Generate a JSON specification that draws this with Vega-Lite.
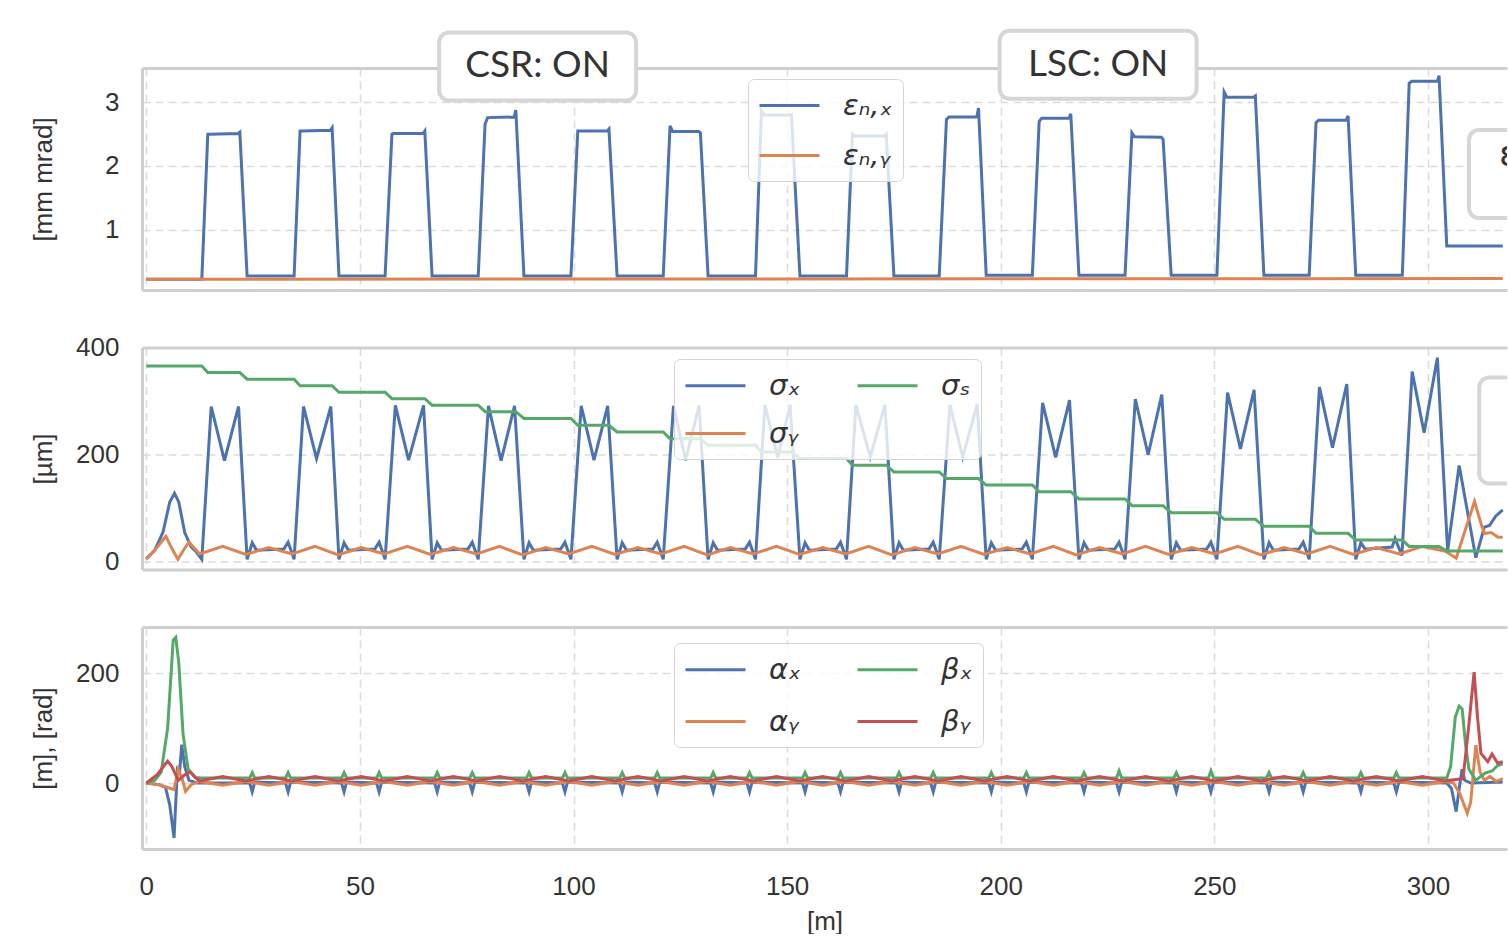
{
  "$schema": "https://vega.github.io/schema/vega-lite/v6.json",
  "padding": {"left": 29, "top": 28, "right": 0, "bottom": 0},
  "background": "white",
  "spacing": 57.5,
  "bounds": "flush",
  "resolve": {"scale": {"color": "independent"}},
  "config": {
    "view": {"stroke": null},
    "font": "Liberation Sans",
    "axis": {
      "gridColor": "#dcdcdc", "gridDash": [8, 5], "gridWidth": 1.6,
      "domainColor": "#cfcfcf", "domainWidth": 3,
      "ticks": false, "tickSize": 0,
      "labelFont": "Liberation Sans", "labelFontSize": 26, "labelColor": "#333333", "labelFlush": false,
      "titleFont": "Liberation Sans", "titleFontSize": 26, "titleColor": "#333333", "titleFontWeight": "normal"
    },
    "axisX": {"labelPadding": 24, "titlePadding": 9},
    "axisY": {"labelPadding": 23, "titleX": -99, "titleY": 111, "titleBaseline": "middle", "titleAlign": "center", "format": "d"},
    "legend": {
      "orient": "none", "direction": "vertical",
      "symbolType": "M-1,0H3", "symbolSize": 900, "symbolStrokeWidth": 3,
      "labelFont": "DejaVu Sans", "labelFontSize": 29, "labelFontStyle": "italic", "labelColor": "#333333",
      "labelOffset": 52, "rowPadding": 18, "columnPadding": 50, "padding": 10,
      "fillColor": "rgba(255,255,255,0.8)", "strokeColor": "#d4d4d4", "cornerRadius": 6, "labelLimit": 200
    }
  },
  "datasets": {
    "ann": [
      {"t": "CSR: ON", "s": 91.6, "v": 3.564},
      {"t": "LSC: ON", "s": 222.8, "v": 3.59}
    ],
    "edge1": [{"t": "ε", "s": 333.0, "v": 1.873, "ts": 316.6, "tv": 2.17}],
    "edge2": [{"s": 335.4, "v": 245.2}],
    "d": [
      {"k":"ex","s":0,"v":0.22},{"k":"ex","s":13,"v":0.22},{"k":"ex","s":14.4,"v":2.5},{"k":"ex","s":14.8,"v":2.5},{"k":"ex","s":21.5,"v":2.51},{"k":"ex","s":21.9,"v":2.53},{"k":"ex","s":23.6,"v":0.27},
      {"k":"ex","s":34.6,"v":0.27},{"k":"ex","s":36,"v":2.55},{"k":"ex","s":36.4,"v":2.55},{"k":"ex","s":43.1,"v":2.56},{"k":"ex","s":43.5,"v":2.6},{"k":"ex","s":45.1,"v":0.27},
      {"k":"ex","s":55.9,"v":0.27},{"k":"ex","s":57.5,"v":2.5},{"k":"ex","s":57.9,"v":2.51},{"k":"ex","s":64.8,"v":2.51},{"k":"ex","s":65.2,"v":2.55},{"k":"ex","s":66.9,"v":0.27},
      {"k":"ex","s":77.7,"v":0.27},{"k":"ex","s":79.3,"v":2.66},{"k":"ex","s":79.9,"v":2.76},{"k":"ex","s":86.1,"v":2.77},{"k":"ex","s":86.5,"v":2.88},{"k":"ex","s":88.4,"v":0.27},
      {"k":"ex","s":99.4,"v":0.27},{"k":"ex","s":101,"v":2.55},{"k":"ex","s":101.4,"v":2.55},{"k":"ex","s":107.9,"v":2.55},{"k":"ex","s":108.3,"v":2.58},{"k":"ex","s":110.2,"v":0.27},
      {"k":"ex","s":121,"v":0.27},{"k":"ex","s":122.6,"v":2.63},{"k":"ex","s":123.2,"v":2.54},{"k":"ex","s":129.3,"v":2.54},{"k":"ex","s":129.7,"v":2.52},{"k":"ex","s":131.5,"v":0.27},
      {"k":"ex","s":142.6,"v":0.27},{"k":"ex","s":144,"v":2.87},{"k":"ex","s":144.6,"v":2.8},{"k":"ex","s":150.6,"v":2.8},{"k":"ex","s":151,"v":2.81},{"k":"ex","s":153,"v":0.27},
      {"k":"ex","s":163.9,"v":0.27},{"k":"ex","s":165.3,"v":2.5},{"k":"ex","s":165.7,"v":2.47},{"k":"ex","s":172.8,"v":2.47},{"k":"ex","s":173.2,"v":2.5},{"k":"ex","s":175,"v":0.27},
      {"k":"ex","s":185.6,"v":0.27},{"k":"ex","s":187.3,"v":2.73},{"k":"ex","s":187.9,"v":2.77},{"k":"ex","s":194.4,"v":2.77},{"k":"ex","s":194.8,"v":2.91},{"k":"ex","s":196.6,"v":0.28},
      {"k":"ex","s":207.4,"v":0.28},{"k":"ex","s":209,"v":2.7},{"k":"ex","s":209.6,"v":2.75},{"k":"ex","s":216,"v":2.75},{"k":"ex","s":216.4,"v":2.82},{"k":"ex","s":218.3,"v":0.28},
      {"k":"ex","s":229.1,"v":0.28},{"k":"ex","s":230.7,"v":2.52},{"k":"ex","s":231.3,"v":2.46},{"k":"ex","s":237.6,"v":2.45},{"k":"ex","s":238,"v":2.42},{"k":"ex","s":239.9,"v":0.28},
      {"k":"ex","s":250.6,"v":0.28},{"k":"ex","s":252.3,"v":3.16},{"k":"ex","s":252.9,"v":3.08},{"k":"ex","s":259.2,"v":3.08},{"k":"ex","s":259.6,"v":3.1},{"k":"ex","s":261.6,"v":0.28},
      {"k":"ex","s":272.2,"v":0.28},{"k":"ex","s":273.8,"v":2.68},{"k":"ex","s":274.4,"v":2.72},{"k":"ex","s":280.9,"v":2.72},{"k":"ex","s":281.3,"v":2.79},{"k":"ex","s":283.1,"v":0.28},
      {"k":"ex","s":294,"v":0.28},{"k":"ex","s":295.6,"v":3.3},{"k":"ex","s":296.2,"v":3.33},{"k":"ex","s":302.2,"v":3.33},{"k":"ex","s":302.6,"v":3.42},{"k":"ex","s":304.4,"v":0.74},{"k":"ex","s":317.5,"v":0.74},
      {"k":"ey","s":0,"v":0.22},{"k":"ey","s":317.5,"v":0.23},

      {"k":"sx","s":0,"v":6},{"k":"sx","s":2,"v":22},{"k":"sx","s":3.9,"v":55},{"k":"sx","s":5.5,"v":112},{"k":"sx","s":6.6,"v":128},{"k":"sx","s":7.6,"v":112},{"k":"sx","s":9,"v":55},{"k":"sx","s":10.5,"v":28},{"k":"sx","s":11.6,"v":20},{"k":"sx","s":13,"v":5},
      {"k":"sx","s":15.2,"v":290},{"k":"sx","s":18.3,"v":189},{"k":"sx","s":21.6,"v":290},{"k":"sx","s":23.6,"v":5},
      {"k":"sx","s":24.8,"v":36},{"k":"sx","s":25.8,"v":22},{"k":"sx","s":32.2,"v":24},{"k":"sx","s":33.2,"v":37},
      {"k":"sx","s":34.6,"v":5},{"k":"sx","s":36.8,"v":290},{"k":"sx","s":39.85,"v":193},{"k":"sx","s":43.2,"v":290},{"k":"sx","s":45.1,"v":5},
      {"k":"sx","s":46.3,"v":36},{"k":"sx","s":47.3,"v":22},{"k":"sx","s":53.5,"v":24},{"k":"sx","s":54.5,"v":37},
      {"k":"sx","s":55.9,"v":5},{"k":"sx","s":58.3,"v":292},{"k":"sx","s":61.4,"v":190},{"k":"sx","s":64.9,"v":292},{"k":"sx","s":66.9,"v":5},
      {"k":"sx","s":68.1,"v":36},{"k":"sx","s":69.1,"v":22},{"k":"sx","s":75.3,"v":24},{"k":"sx","s":76.3,"v":37},
      {"k":"sx","s":77.7,"v":5},{"k":"sx","s":80.1,"v":291},{"k":"sx","s":83.05,"v":189},{"k":"sx","s":86.2,"v":291},{"k":"sx","s":88.4,"v":5},
      {"k":"sx","s":89.6,"v":36},{"k":"sx","s":90.6,"v":22},{"k":"sx","s":97,"v":24},{"k":"sx","s":98,"v":37},
      {"k":"sx","s":99.4,"v":5},{"k":"sx","s":101.8,"v":291},{"k":"sx","s":104.8,"v":190},{"k":"sx","s":108,"v":291},{"k":"sx","s":110.2,"v":5},
      {"k":"sx","s":111.4,"v":36},{"k":"sx","s":112.4,"v":22},{"k":"sx","s":118.6,"v":24},{"k":"sx","s":119.6,"v":37},
      {"k":"sx","s":121,"v":5},{"k":"sx","s":123.4,"v":291},{"k":"sx","s":126.25,"v":190},{"k":"sx","s":129.4,"v":292},{"k":"sx","s":131.5,"v":5},
      {"k":"sx","s":132.7,"v":36},{"k":"sx","s":133.7,"v":22},{"k":"sx","s":140.2,"v":24},{"k":"sx","s":141.2,"v":37},
      {"k":"sx","s":142.6,"v":5},{"k":"sx","s":144.8,"v":293},{"k":"sx","s":147.8,"v":195},{"k":"sx","s":150.7,"v":293},{"k":"sx","s":153,"v":5},
      {"k":"sx","s":154.2,"v":36},{"k":"sx","s":155.2,"v":22},{"k":"sx","s":161.5,"v":24},{"k":"sx","s":162.5,"v":37},
      {"k":"sx","s":163.9,"v":5},{"k":"sx","s":166.1,"v":293},{"k":"sx","s":169.45,"v":196},{"k":"sx","s":172.9,"v":293},{"k":"sx","s":175,"v":5},
      {"k":"sx","s":176.2,"v":36},{"k":"sx","s":177.2,"v":22},{"k":"sx","s":183.2,"v":24},{"k":"sx","s":184.2,"v":37},
      {"k":"sx","s":185.6,"v":5},{"k":"sx","s":188.1,"v":293},{"k":"sx","s":191.1,"v":196},{"k":"sx","s":194.5,"v":294},{"k":"sx","s":196.6,"v":5},
      {"k":"sx","s":197.8,"v":36},{"k":"sx","s":198.8,"v":22},{"k":"sx","s":205,"v":24},{"k":"sx","s":206,"v":37},
      {"k":"sx","s":207.4,"v":5},{"k":"sx","s":209.8,"v":297},{"k":"sx","s":212.85,"v":195},{"k":"sx","s":216.1,"v":302},{"k":"sx","s":218.3,"v":5},
      {"k":"sx","s":219.5,"v":36},{"k":"sx","s":220.5,"v":22},{"k":"sx","s":226.7,"v":24},{"k":"sx","s":227.7,"v":37},
      {"k":"sx","s":229.1,"v":5},{"k":"sx","s":231.5,"v":304},{"k":"sx","s":234.5,"v":200},{"k":"sx","s":237.7,"v":312},{"k":"sx","s":239.9,"v":5},
      {"k":"sx","s":241.1,"v":36},{"k":"sx","s":242.1,"v":22},{"k":"sx","s":248.2,"v":24},{"k":"sx","s":249.2,"v":37},
      {"k":"sx","s":250.6,"v":5},{"k":"sx","s":253.1,"v":316},{"k":"sx","s":256.1,"v":211},{"k":"sx","s":259.3,"v":321},{"k":"sx","s":261.6,"v":5},
      {"k":"sx","s":262.8,"v":36},{"k":"sx","s":263.8,"v":22},{"k":"sx","s":269.8,"v":24},{"k":"sx","s":270.8,"v":37},
      {"k":"sx","s":272.2,"v":5},{"k":"sx","s":274.6,"v":326},{"k":"sx","s":277.65,"v":213},{"k":"sx","s":281,"v":332},{"k":"sx","s":283.1,"v":5},
      {"k":"sx","s":284.3,"v":36},{"k":"sx","s":285.3,"v":24},{"k":"sx","s":291.6,"v":28},{"k":"sx","s":292.3,"v":44},
      {"k":"sx","s":293.9,"v":12},{"k":"sx","s":296.3,"v":355},{"k":"sx","s":299.1,"v":241},{"k":"sx","s":302.2,"v":381},{"k":"sx","s":304.6,"v":21},
      {"k":"sx","s":307.3,"v":180},{"k":"sx","s":311.2,"v":8},{"k":"sx","s":313.2,"v":65},{"k":"sx","s":314.4,"v":68},{"k":"sx","s":315.9,"v":86},{"k":"sx","s":317.5,"v":97},

      {"k":"sy","s":0,"v":5},{"k":"sy","s":2.3,"v":25},{"k":"sy","s":4.6,"v":48},{"k":"sy","s":6,"v":25},{"k":"sy","s":7.4,"v":5},{"k":"sy","s":8.7,"v":22},{"k":"sy","s":10,"v":37},{"k":"sy","s":12.5,"v":15},
      {"k":"sy","s":17.9,"v":29},{"k":"sy","s":23.3,"v":14},{"k":"sy","s":28.7,"v":27},{"k":"sy","s":34.1,"v":15},{"k":"sy","s":39.5,"v":29},{"k":"sy","s":44.9,"v":13},{"k":"sy","s":50.3,"v":27},{"k":"sy","s":55.7,"v":15},{"k":"sy","s":61.1,"v":29},
      {"k":"sy","s":66.5,"v":14},{"k":"sy","s":71.9,"v":27},{"k":"sy","s":77.3,"v":15},{"k":"sy","s":82.7,"v":29},{"k":"sy","s":88.1,"v":13},{"k":"sy","s":93.5,"v":27},{"k":"sy","s":98.9,"v":15},{"k":"sy","s":104.3,"v":29},{"k":"sy","s":109.7,"v":14},{"k":"sy","s":115.1,"v":27},
      {"k":"sy","s":120.5,"v":15},{"k":"sy","s":125.9,"v":29},{"k":"sy","s":131.3,"v":13},{"k":"sy","s":136.7,"v":27},{"k":"sy","s":142.1,"v":15},{"k":"sy","s":147.5,"v":29},{"k":"sy","s":152.9,"v":14},{"k":"sy","s":158.3,"v":27},{"k":"sy","s":163.7,"v":15},{"k":"sy","s":169.1,"v":29},
      {"k":"sy","s":174.5,"v":13},{"k":"sy","s":179.9,"v":27},{"k":"sy","s":185.3,"v":15},{"k":"sy","s":190.7,"v":29},{"k":"sy","s":196.1,"v":14},{"k":"sy","s":201.5,"v":27},{"k":"sy","s":206.9,"v":15},{"k":"sy","s":212.3,"v":29},{"k":"sy","s":217.7,"v":13},{"k":"sy","s":223.1,"v":27},
      {"k":"sy","s":228.5,"v":15},{"k":"sy","s":233.9,"v":29},{"k":"sy","s":239.3,"v":14},{"k":"sy","s":244.7,"v":27},{"k":"sy","s":250.1,"v":15},{"k":"sy","s":255.5,"v":29},{"k":"sy","s":260.9,"v":13},{"k":"sy","s":266.3,"v":27},{"k":"sy","s":271.7,"v":15},{"k":"sy","s":277.1,"v":29},
      {"k":"sy","s":282.5,"v":14},{"k":"sy","s":287.9,"v":27},{"k":"sy","s":293.3,"v":15},{"k":"sy","s":298.7,"v":29},{"k":"sy","s":304.1,"v":20},
      {"k":"sy","s":306.6,"v":7},{"k":"sy","s":310.9,"v":113},{"k":"sy","s":312.4,"v":72},{"k":"sy","s":313.2,"v":53},{"k":"sy","s":314.8,"v":55},{"k":"sy","s":316.4,"v":46},{"k":"sy","s":317.5,"v":46},

      {"k":"ss","s":0,"v":365.6},
      {"k":"ss","s":13,"v":365.6},{"k":"ss","s":14.4,"v":353.3},{"k":"ss","s":21.9,"v":353.3},{"k":"ss","s":23.6,"v":341},
      {"k":"ss","s":34.6,"v":341},{"k":"ss","s":36,"v":328.7},{"k":"ss","s":43.5,"v":328.7},{"k":"ss","s":45.1,"v":316.5},
      {"k":"ss","s":55.9,"v":316.5},{"k":"ss","s":57.5,"v":304.5},{"k":"ss","s":65.2,"v":304.5},{"k":"ss","s":66.9,"v":292.5},
      {"k":"ss","s":77.7,"v":292.5},{"k":"ss","s":79.3,"v":280.3},{"k":"ss","s":86.5,"v":280.3},{"k":"ss","s":88.4,"v":267.8},
      {"k":"ss","s":99.4,"v":267.8},{"k":"ss","s":101,"v":255},{"k":"ss","s":108.3,"v":255},{"k":"ss","s":110.2,"v":242.5},
      {"k":"ss","s":121,"v":242.5},{"k":"ss","s":122.6,"v":230},{"k":"ss","s":129.7,"v":230},{"k":"ss","s":131.5,"v":217.5},
      {"k":"ss","s":142.6,"v":217.5},{"k":"ss","s":144,"v":205.3},{"k":"ss","s":151,"v":205.3},{"k":"ss","s":153,"v":193},
      {"k":"ss","s":163.9,"v":193},{"k":"ss","s":165.3,"v":180.5},{"k":"ss","s":173.2,"v":180.5},{"k":"ss","s":175,"v":168},
      {"k":"ss","s":185.6,"v":168},{"k":"ss","s":187.3,"v":155.7},{"k":"ss","s":194.8,"v":155.7},{"k":"ss","s":196.6,"v":143.5},
      {"k":"ss","s":207.4,"v":143.5},{"k":"ss","s":209,"v":131},{"k":"ss","s":216.4,"v":131},{"k":"ss","s":218.3,"v":117.5},
      {"k":"ss","s":229.1,"v":117.5},{"k":"ss","s":230.7,"v":105},{"k":"ss","s":238,"v":105},{"k":"ss","s":239.9,"v":92},
      {"k":"ss","s":250.6,"v":92},{"k":"ss","s":252.3,"v":79.5},{"k":"ss","s":259.6,"v":79.5},{"k":"ss","s":261.6,"v":66.5},
      {"k":"ss","s":272.2,"v":66.5},{"k":"ss","s":273.8,"v":53.5},{"k":"ss","s":281.3,"v":53.5},{"k":"ss","s":283.1,"v":41},
      {"k":"ss","s":294,"v":41},{"k":"ss","s":295.6,"v":29},{"k":"ss","s":302.6,"v":29},{"k":"ss","s":304.4,"v":20.5},
      {"k":"ss","s":317.5,"v":20.5},

      {"k":"ax","s":0,"v":0},{"k":"ax","s":3,"v":-3},{"k":"ax","s":4.5,"v":-8},{"k":"ax","s":5.5,"v":-40},{"k":"ax","s":6.5,"v":-100},{"k":"ax","s":7,"v":-20},{"k":"ax","s":7.3,"v":25},{"k":"ax","s":7.8,"v":20},{"k":"ax","s":8.3,"v":70},{"k":"ax","s":9,"v":30},{"k":"ax","s":10,"v":5},{"k":"ax","s":12,"v":0},
      {"k":"ax","s":24.2,"v":0},{"k":"ax","s":24.8,"v":-16},{"k":"ax","s":25.4,"v":2},{"k":"ax","s":32.6,"v":0},{"k":"ax","s":33.2,"v":-16},{"k":"ax","s":33.8,"v":2},
      {"k":"ax","s":45.7,"v":0},{"k":"ax","s":46.3,"v":-16},{"k":"ax","s":46.9,"v":2},{"k":"ax","s":53.9,"v":0},{"k":"ax","s":54.5,"v":-16},{"k":"ax","s":55.1,"v":2},
      {"k":"ax","s":67.5,"v":0},{"k":"ax","s":68.1,"v":-16},{"k":"ax","s":68.7,"v":2},{"k":"ax","s":75.7,"v":0},{"k":"ax","s":76.3,"v":-16},{"k":"ax","s":76.9,"v":2},
      {"k":"ax","s":89,"v":0},{"k":"ax","s":89.6,"v":-16},{"k":"ax","s":90.2,"v":2},{"k":"ax","s":97.4,"v":0},{"k":"ax","s":98,"v":-16},{"k":"ax","s":98.6,"v":2},
      {"k":"ax","s":110.8,"v":0},{"k":"ax","s":111.4,"v":-16},{"k":"ax","s":112,"v":2},{"k":"ax","s":119,"v":0},{"k":"ax","s":119.6,"v":-16},{"k":"ax","s":120.2,"v":2},
      {"k":"ax","s":132.1,"v":0},{"k":"ax","s":132.7,"v":-16},{"k":"ax","s":133.3,"v":2},{"k":"ax","s":140.6,"v":0},{"k":"ax","s":141.2,"v":-16},{"k":"ax","s":141.8,"v":2},
      {"k":"ax","s":153.6,"v":0},{"k":"ax","s":154.2,"v":-16},{"k":"ax","s":154.8,"v":2},{"k":"ax","s":161.9,"v":0},{"k":"ax","s":162.5,"v":-16},{"k":"ax","s":163.1,"v":2},
      {"k":"ax","s":175.6,"v":0},{"k":"ax","s":176.2,"v":-16},{"k":"ax","s":176.8,"v":2},{"k":"ax","s":183.6,"v":0},{"k":"ax","s":184.2,"v":-16},{"k":"ax","s":184.8,"v":2},
      {"k":"ax","s":197.2,"v":0},{"k":"ax","s":197.8,"v":-16},{"k":"ax","s":198.4,"v":2},{"k":"ax","s":205.4,"v":0},{"k":"ax","s":206,"v":-16},{"k":"ax","s":206.6,"v":2},
      {"k":"ax","s":218.9,"v":0},{"k":"ax","s":219.5,"v":-16},{"k":"ax","s":220.1,"v":2},{"k":"ax","s":227.1,"v":0},{"k":"ax","s":227.7,"v":-16},{"k":"ax","s":228.3,"v":2},
      {"k":"ax","s":240.5,"v":0},{"k":"ax","s":241.1,"v":-16},{"k":"ax","s":241.7,"v":2},{"k":"ax","s":248.6,"v":0},{"k":"ax","s":249.2,"v":-16},{"k":"ax","s":249.8,"v":2},
      {"k":"ax","s":262.2,"v":0},{"k":"ax","s":262.8,"v":-16},{"k":"ax","s":263.4,"v":2},{"k":"ax","s":270.2,"v":0},{"k":"ax","s":270.8,"v":-16},{"k":"ax","s":271.4,"v":2},
      {"k":"ax","s":283.7,"v":0},{"k":"ax","s":284.3,"v":-16},{"k":"ax","s":284.9,"v":2},{"k":"ax","s":292,"v":0},{"k":"ax","s":292.6,"v":-16},{"k":"ax","s":293.2,"v":2},
      {"k":"ax","s":304.4,"v":0},{"k":"ax","s":305.5,"v":-10},{"k":"ax","s":306.6,"v":-52},{"k":"ax","s":307.4,"v":-5},{"k":"ax","s":308,"v":25},{"k":"ax","s":308.6,"v":5},{"k":"ax","s":310,"v":0},{"k":"ax","s":317.5,"v":2},

      {"k":"ay","s":0,"v":0},{"k":"ay","s":3,"v":-3},{"k":"ay","s":5,"v":-8},{"k":"ay","s":6.5,"v":-12},{"k":"ay","s":7.5,"v":25},{"k":"ay","s":8.5,"v":5},{"k":"ay","s":9.2,"v":-15},{"k":"ay","s":10.5,"v":-3},
      {"k":"ay","s":12.5,"v":3},{"k":"ay","s":17.9,"v":-4},{"k":"ay","s":23.3,"v":3},{"k":"ay","s":28.7,"v":-4},{"k":"ay","s":34.1,"v":3},{"k":"ay","s":39.5,"v":-4},{"k":"ay","s":44.9,"v":3},{"k":"ay","s":50.3,"v":-4},{"k":"ay","s":55.7,"v":3},{"k":"ay","s":61.1,"v":-4},
      {"k":"ay","s":66.5,"v":3},{"k":"ay","s":71.9,"v":-4},{"k":"ay","s":77.3,"v":3},{"k":"ay","s":82.7,"v":-4},{"k":"ay","s":88.1,"v":3},{"k":"ay","s":93.5,"v":-4},{"k":"ay","s":98.9,"v":3},{"k":"ay","s":104.3,"v":-4},{"k":"ay","s":109.7,"v":3},{"k":"ay","s":115.1,"v":-4},
      {"k":"ay","s":120.5,"v":3},{"k":"ay","s":125.9,"v":-4},{"k":"ay","s":131.3,"v":3},{"k":"ay","s":136.7,"v":-4},{"k":"ay","s":142.1,"v":3},{"k":"ay","s":147.5,"v":-4},{"k":"ay","s":152.9,"v":3},{"k":"ay","s":158.3,"v":-4},{"k":"ay","s":163.7,"v":3},{"k":"ay","s":169.1,"v":-4},
      {"k":"ay","s":174.5,"v":3},{"k":"ay","s":179.9,"v":-4},{"k":"ay","s":185.3,"v":3},{"k":"ay","s":190.7,"v":-4},{"k":"ay","s":196.1,"v":3},{"k":"ay","s":201.5,"v":-4},{"k":"ay","s":206.9,"v":3},{"k":"ay","s":212.3,"v":-4},{"k":"ay","s":217.7,"v":3},{"k":"ay","s":223.1,"v":-4},
      {"k":"ay","s":228.5,"v":3},{"k":"ay","s":233.9,"v":-4},{"k":"ay","s":239.3,"v":3},{"k":"ay","s":244.7,"v":-4},{"k":"ay","s":250.1,"v":3},{"k":"ay","s":255.5,"v":-4},{"k":"ay","s":260.9,"v":3},{"k":"ay","s":266.3,"v":-4},{"k":"ay","s":271.7,"v":3},{"k":"ay","s":277.1,"v":-4},
      {"k":"ay","s":282.5,"v":3},{"k":"ay","s":287.9,"v":-4},{"k":"ay","s":293.3,"v":3},{"k":"ay","s":298.7,"v":-4},{"k":"ay","s":304.1,"v":3},
      {"k":"ay","s":306,"v":0},{"k":"ay","s":307.5,"v":-20},{"k":"ay","s":309.2,"v":-55},{"k":"ay","s":310,"v":-35},{"k":"ay","s":311.2,"v":69},{"k":"ay","s":312.2,"v":20},{"k":"ay","s":313.2,"v":5},{"k":"ay","s":314.5,"v":12},{"k":"ay","s":316,"v":3},{"k":"ay","s":317.5,"v":8},

      {"k":"bx","s":0,"v":0},{"k":"bx","s":2,"v":5},{"k":"bx","s":3.5,"v":20},{"k":"bx","s":5,"v":100},{"k":"bx","s":6.3,"v":260},{"k":"bx","s":6.9,"v":265},{"k":"bx","s":7.6,"v":220},{"k":"bx","s":8.6,"v":90},{"k":"bx","s":9.8,"v":25},{"k":"bx","s":11.5,"v":10},{"k":"bx","s":13,"v":9},
      {"k":"bx","s":24.2,"v":9},{"k":"bx","s":24.8,"v":19},{"k":"bx","s":25.4,"v":9},{"k":"bx","s":32.6,"v":9},{"k":"bx","s":33.2,"v":19},{"k":"bx","s":33.8,"v":9},
      {"k":"bx","s":45.7,"v":9},{"k":"bx","s":46.3,"v":19},{"k":"bx","s":46.9,"v":9},{"k":"bx","s":53.9,"v":9},{"k":"bx","s":54.5,"v":19},{"k":"bx","s":55.1,"v":9},
      {"k":"bx","s":67.5,"v":9},{"k":"bx","s":68.1,"v":19},{"k":"bx","s":68.7,"v":9},{"k":"bx","s":75.7,"v":9},{"k":"bx","s":76.3,"v":19},{"k":"bx","s":76.9,"v":9},
      {"k":"bx","s":89,"v":9},{"k":"bx","s":89.6,"v":19},{"k":"bx","s":90.2,"v":9},{"k":"bx","s":97.4,"v":9},{"k":"bx","s":98,"v":19},{"k":"bx","s":98.6,"v":9},
      {"k":"bx","s":110.8,"v":9},{"k":"bx","s":111.4,"v":19},{"k":"bx","s":112,"v":9},{"k":"bx","s":119,"v":9},{"k":"bx","s":119.6,"v":19},{"k":"bx","s":120.2,"v":9},
      {"k":"bx","s":132.1,"v":9},{"k":"bx","s":132.7,"v":19},{"k":"bx","s":133.3,"v":9},{"k":"bx","s":140.6,"v":9},{"k":"bx","s":141.2,"v":19},{"k":"bx","s":141.8,"v":9},
      {"k":"bx","s":153.6,"v":9},{"k":"bx","s":154.2,"v":19},{"k":"bx","s":154.8,"v":9},{"k":"bx","s":161.9,"v":9},{"k":"bx","s":162.5,"v":19},{"k":"bx","s":163.1,"v":9},
      {"k":"bx","s":175.6,"v":9},{"k":"bx","s":176.2,"v":19},{"k":"bx","s":176.8,"v":9},{"k":"bx","s":183.6,"v":9},{"k":"bx","s":184.2,"v":19},{"k":"bx","s":184.8,"v":9},
      {"k":"bx","s":197.2,"v":9},{"k":"bx","s":197.8,"v":19},{"k":"bx","s":198.4,"v":9},{"k":"bx","s":205.4,"v":9},{"k":"bx","s":206,"v":19},{"k":"bx","s":206.6,"v":9},
      {"k":"bx","s":218.9,"v":9},{"k":"bx","s":219.5,"v":19},{"k":"bx","s":220.1,"v":9},{"k":"bx","s":227.1,"v":9},{"k":"bx","s":227.7,"v":22},{"k":"bx","s":228.3,"v":9},
      {"k":"bx","s":240.5,"v":9},{"k":"bx","s":241.1,"v":19},{"k":"bx","s":241.7,"v":9},{"k":"bx","s":248.6,"v":9},{"k":"bx","s":249.2,"v":22},{"k":"bx","s":249.8,"v":9},
      {"k":"bx","s":262.2,"v":9},{"k":"bx","s":262.8,"v":19},{"k":"bx","s":263.4,"v":9},{"k":"bx","s":270.2,"v":9},{"k":"bx","s":270.8,"v":19},{"k":"bx","s":271.4,"v":9},
      {"k":"bx","s":283.7,"v":9},{"k":"bx","s":284.3,"v":19},{"k":"bx","s":284.9,"v":9},{"k":"bx","s":292,"v":9},{"k":"bx","s":292.6,"v":19},{"k":"bx","s":293.2,"v":9},
      {"k":"bx","s":304.4,"v":9},{"k":"bx","s":305.3,"v":30},{"k":"bx","s":306.4,"v":120},{"k":"bx","s":307.3,"v":140},{"k":"bx","s":308,"v":135},{"k":"bx","s":308.8,"v":70},{"k":"bx","s":309.6,"v":25},{"k":"bx","s":311.2,"v":5},{"k":"bx","s":313.4,"v":18},{"k":"bx","s":315,"v":22},{"k":"bx","s":316.3,"v":32},{"k":"bx","s":317.5,"v":35},

      {"k":"by","s":0,"v":0},{"k":"by","s":2.5,"v":15},{"k":"by","s":5,"v":40},{"k":"by","s":6,"v":30},{"k":"by","s":7.5,"v":5},{"k":"by","s":9,"v":15},{"k":"by","s":10.3,"v":20},{"k":"by","s":11.5,"v":10},
      {"k":"by","s":12.5,"v":4},{"k":"by","s":17.9,"v":12},{"k":"by","s":23.3,"v":4},{"k":"by","s":28.7,"v":12},{"k":"by","s":34.1,"v":4},{"k":"by","s":39.5,"v":12},{"k":"by","s":44.9,"v":4},{"k":"by","s":50.3,"v":12},{"k":"by","s":55.7,"v":4},{"k":"by","s":61.1,"v":12},
      {"k":"by","s":66.5,"v":4},{"k":"by","s":71.9,"v":12},{"k":"by","s":77.3,"v":4},{"k":"by","s":82.7,"v":12},{"k":"by","s":88.1,"v":4},{"k":"by","s":93.5,"v":12},{"k":"by","s":98.9,"v":4},{"k":"by","s":104.3,"v":12},{"k":"by","s":109.7,"v":4},{"k":"by","s":115.1,"v":12},
      {"k":"by","s":120.5,"v":4},{"k":"by","s":125.9,"v":12},{"k":"by","s":131.3,"v":4},{"k":"by","s":136.7,"v":12},{"k":"by","s":142.1,"v":4},{"k":"by","s":147.5,"v":12},{"k":"by","s":152.9,"v":4},{"k":"by","s":158.3,"v":12},{"k":"by","s":163.7,"v":4},{"k":"by","s":169.1,"v":12},
      {"k":"by","s":174.5,"v":4},{"k":"by","s":179.9,"v":12},{"k":"by","s":185.3,"v":4},{"k":"by","s":190.7,"v":12},{"k":"by","s":196.1,"v":4},{"k":"by","s":201.5,"v":12},{"k":"by","s":206.9,"v":4},{"k":"by","s":212.3,"v":12},{"k":"by","s":217.7,"v":4},{"k":"by","s":223.1,"v":12},
      {"k":"by","s":228.5,"v":4},{"k":"by","s":233.9,"v":12},{"k":"by","s":239.3,"v":4},{"k":"by","s":244.7,"v":12},{"k":"by","s":250.1,"v":4},{"k":"by","s":255.5,"v":12},{"k":"by","s":260.9,"v":4},{"k":"by","s":266.3,"v":12},{"k":"by","s":271.7,"v":4},{"k":"by","s":277.1,"v":12},
      {"k":"by","s":282.5,"v":4},{"k":"by","s":287.9,"v":12},{"k":"by","s":293.3,"v":4},{"k":"by","s":298.7,"v":12},{"k":"by","s":304.1,"v":4},
      {"k":"by","s":306,"v":6},{"k":"by","s":308.2,"v":8},{"k":"by","s":309.5,"v":100},{"k":"by","s":310.8,"v":202},{"k":"by","s":311.6,"v":120},{"k":"by","s":312.4,"v":54},{"k":"by","s":314,"v":39},{"k":"by","s":315,"v":53},{"k":"by","s":316.3,"v":36},{"k":"by","s":317.5,"v":39}
    ]
  },
  "vconcat": [
    {
      "width": 1365, "height": 222,
      "resolve": {"axis": {"x": "independent"}},
      "layer": [
        {
          "data": {"name": "d"},
          "transform": [{"filter": {"field": "k", "oneOf": ["ex", "ey"]}}],
          "mark": {"type": "line", "strokeWidth": 3},
          "encoding": {
            "x": {"field": "s", "type": "quantitative", "scale": {"domain": [-1, 318.5], "nice": false, "zero": false},
                  "axis": {"orient": "bottom", "labels": false, "title": null, "values": [0, 50, 100, 150, 200, 250, 300]}},
            "y": {"field": "v", "type": "quantitative", "scale": {"domain": [0.05, 3.54], "nice": false, "zero": false},
                  "axis": {"title": "[mm mrad]", "values": [1, 2, 3]}},
            "color": {"field": "k", "type": "nominal",
                      "scale": {"domain": ["ex", "ey"], "range": ["#4c72b0", "#dd8452"]},
                      "legend": {"title": null, "legendX": 606, "legendY": 11, "rowPadding": 18,
                                 "labelExpr": "datum.label == 'ex' ? 'εₙ,ₓ' : 'εₙ,ᵧ'"}}
          }
        },
        {
          "data": {"name": "ann"},
          "mark": {"type": "rect", "width": 197, "height": 68, "cornerRadius": 10, "fill": "white", "stroke": "#d6d6d6", "strokeWidth": 4},
          "encoding": {
            "x": {"field": "s", "type": "quantitative", "scale": {"domain": [-1, 318.5], "nice": false, "zero": false},
                  "axis": {"orient": "top", "labels": false, "grid": false, "title": null}},
            "y": {"field": "v", "type": "quantitative", "scale": {"domain": [0.05, 3.54], "nice": false, "zero": false}}
          }
        },
        {
          "data": {"name": "ann"},
          "mark": {"type": "text", "font": "Lato", "fontSize": 37, "color": "#333333"},
          "encoding": {
            "x": {"field": "s", "type": "quantitative", "scale": {"domain": [-1, 318.5], "nice": false, "zero": false}, "axis": null},
            "y": {"field": "v", "type": "quantitative", "scale": {"domain": [0.05, 3.54], "nice": false, "zero": false}},
            "text": {"field": "t"}
          }
        },
        {
          "data": {"name": "edge1"},
          "mark": {"type": "rect", "width": 200, "height": 88, "cornerRadius": 10, "fill": "white", "stroke": "#d6d6d6", "strokeWidth": 4, "clip": true},
          "encoding": {
            "x": {"field": "s", "type": "quantitative", "scale": {"domain": [-1, 318.5], "nice": false, "zero": false}, "axis": null},
            "y": {"field": "v", "type": "quantitative", "scale": {"domain": [0.05, 3.54], "nice": false, "zero": false}}
          }
        },
        {
          "data": {"name": "edge1"},
          "mark": {"type": "text", "font": "DejaVu Sans", "fontSize": 36, "color": "#333333", "align": "left", "clip": true},
          "encoding": {
            "x": {"field": "ts", "type": "quantitative", "scale": {"domain": [-1, 318.5], "nice": false, "zero": false}, "axis": null},
            "y": {"field": "tv", "type": "quantitative", "scale": {"domain": [0.05, 3.54], "nice": false, "zero": false}},
            "text": {"field": "t"}
          }
        }
      ]
    },
    {
      "width": 1365, "height": 222,
      "resolve": {"axis": {"x": "independent"}},
      "layer": [
        {
          "data": {"name": "d"},
          "transform": [{"filter": {"field": "k", "oneOf": ["sx", "sy", "ss"]}}],
          "mark": {"type": "line", "strokeWidth": 3},
          "encoding": {
            "x": {"field": "s", "type": "quantitative", "scale": {"domain": [-1, 318.5], "nice": false, "zero": false},
                  "axis": {"orient": "bottom", "labels": false, "title": null, "values": [0, 50, 100, 150, 200, 250, 300]}},
            "y": {"field": "v", "type": "quantitative", "scale": {"domain": [-14, 400], "nice": false, "zero": false},
                  "axis": {"title": "[µm]", "values": [0, 200, 400]}},
            "color": {"field": "k", "type": "nominal",
                      "scale": {"domain": ["sx", "sy", "ss"], "range": ["#4c72b0", "#dd8452", "#55a868"]},
                      "legend": {"title": null, "legendX": 532, "legendY": 11.5, "columns": 2, "rowPadding": 16,
                                 "labelExpr": "datum.label == 'sx' ? 'σₓ' : datum.label == 'sy' ? 'σᵧ' : 'σₛ'"}}
          }
        },
        {
          "data": {"name": "edge2"},
          "mark": {"type": "rect", "width": 200, "height": 106, "cornerRadius": 10, "fill": "white", "stroke": "#d6d6d6", "strokeWidth": 4, "clip": true},
          "encoding": {
            "x": {"field": "s", "type": "quantitative", "scale": {"domain": [-1, 318.5], "nice": false, "zero": false},
                  "axis": {"orient": "top", "labels": false, "grid": false, "title": null}},
            "y": {"field": "v", "type": "quantitative", "scale": {"domain": [-14, 400], "nice": false, "zero": false}}
          }
        }
      ]
    },
    {
      "width": 1365, "height": 222,
      "resolve": {"axis": {"x": "independent"}},
      "layer": [
        {
          "data": {"name": "d"},
          "transform": [{"filter": {"field": "k", "oneOf": ["ax", "ay", "bx"]}}],
          "mark": {"type": "line", "strokeWidth": 3},
          "encoding": {
            "x": {"field": "s", "type": "quantitative", "scale": {"domain": [-1, 318.5], "nice": false, "zero": false},
                  "axis": {"orient": "bottom", "title": "[m]", "values": [0, 50, 100, 150, 200, 250, 300]}},
            "y": {"field": "v", "type": "quantitative", "scale": {"domain": [-120, 284], "nice": false, "zero": false},
                  "axis": {"title": "[m], [rad]", "values": [0, 200]}},
            "color": {"field": "k", "type": "nominal",
                      "scale": {"domain": ["ax", "ay", "bx", "by"], "range": ["#4c72b0", "#dd8452", "#55a868", "#c44e52"]},
                      "legend": {"title": null, "legendX": 532, "legendY": 16, "columns": 2, "rowPadding": 20,
                                 "labelExpr": "datum.label == 'ax' ? 'αₓ' : datum.label == 'ay' ? 'αᵧ' : datum.label == 'bx' ? 'βₓ' : 'βᵧ'"}}
          }
        },
        {
          "data": {"name": "d"},
          "transform": [{"filter": {"field": "k", "oneOf": ["by"]}}],
          "mark": {"type": "line", "strokeWidth": 3},
          "encoding": {
            "x": {"field": "s", "type": "quantitative", "scale": {"domain": [-1, 318.5], "nice": false, "zero": false},
                  "axis": {"orient": "top", "labels": false, "grid": false, "title": null}},
            "y": {"field": "v", "type": "quantitative", "scale": {"domain": [-120, 284], "nice": false, "zero": false}},
            "color": {"field": "k", "type": "nominal",
                      "scale": {"domain": ["ax", "ay", "bx", "by"], "range": ["#4c72b0", "#dd8452", "#55a868", "#c44e52"]}}
          }
        }
      ]
    }
  ]
}
